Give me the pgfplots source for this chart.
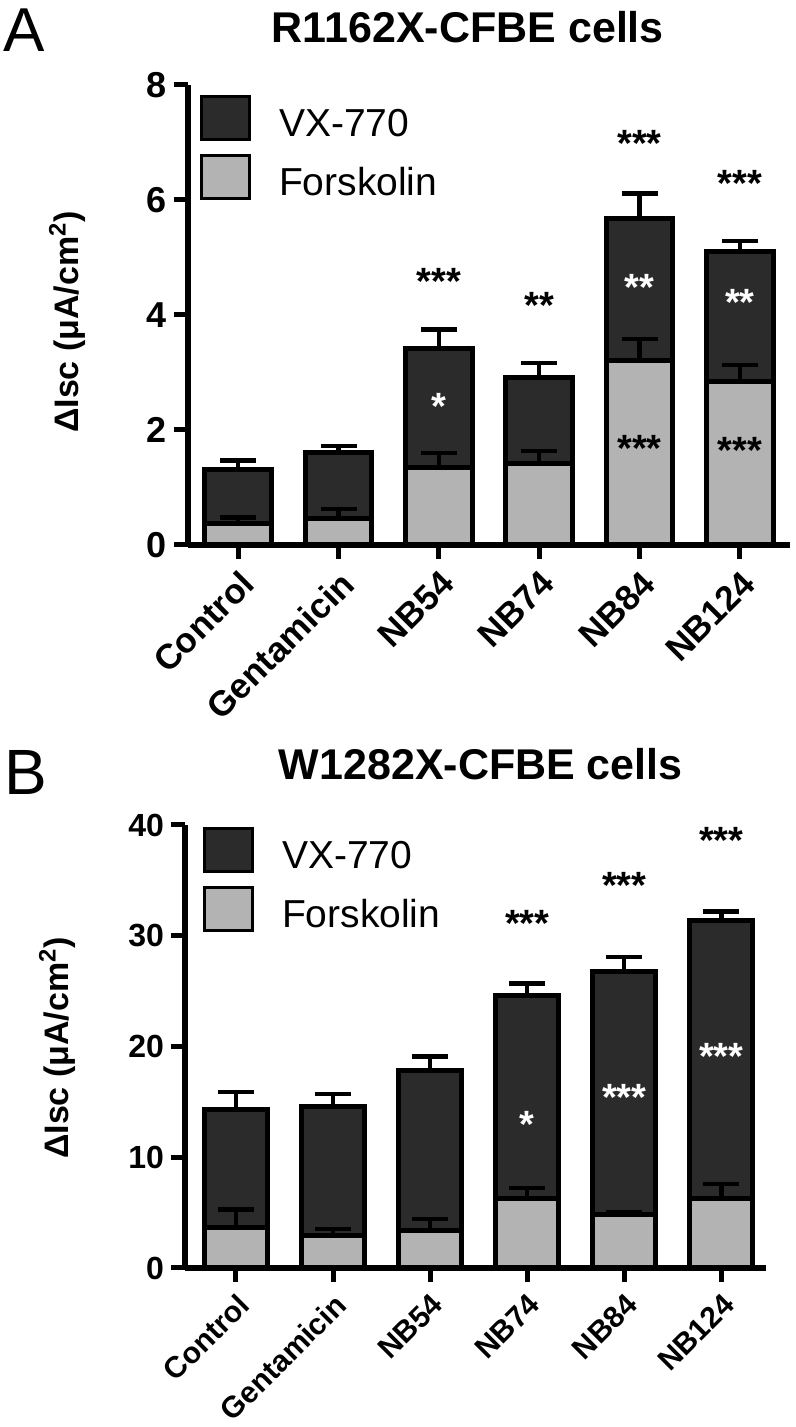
\documentclass[border=0pt]{standalone}
\usepackage{fontspec}
\setmainfont{Liberation Sans}
\usepackage{pgfplots}
\usepackage{pgfplotstable}
\pgfplotsset{compat=1.18}
\definecolor{vxdark}{HTML}{2B2B2B}
\definecolor{fskgray}{HTML}{B3B3B3}

% x, VX-770 top (total), error, Forskolin, error
\pgfplotstableread{
x tot terr fsk ferr
0 1.32 0.15 0.37 0.11
1 1.60 0.12 0.46 0.17
2 3.42 0.33 1.34 0.26
3 2.92 0.24 1.41 0.22
4 5.67 0.44 3.20 0.38
5 5.10 0.19 2.85 0.28
}\dataA

\pgfplotstableread{
x tot terr fsk ferr
0 14.3 1.6 3.7 1.6
1 14.6 1.1 2.9 0.6
2 17.8 1.3 3.4 1.0
3 24.6 1.1 6.3 0.9
4 26.8 1.3 4.8 0.2
5 31.4 0.8 6.3 1.3
}\dataB

\pgfplotsset{
  panel/.style={
    scale only axis,
    anchor=south west,
    axis x line=bottom, axis y line=left,
    axis line style={line width=3pt, -},
    tick align=outside,
    major tick length=7pt,
    tick style={line width=2.5pt, black},
    xtick={0,...,5},
    xticklabels={Control,Gentamicin,NB54,NB74,NB84,NB124},
    xticklabel style={rotate=45, anchor=north east},
    /pgf/number format/assume math mode=true,
    ymin=0,
    clip=false,
    legend cell align=left,
    legend image code/.code={\draw[##1, line width=1.3pt] (0pt,-7.5pt) rectangle (24pt,14pt);},
    legend style={draw=none, fill=none, inner sep=0pt, column sep=14pt, row sep=6.5pt,
      anchor=north west, nodes={inner sep=0pt},
      font=\fontsize{19.5pt}{22pt}\selectfont},
    title style={anchor=base, inner sep=0pt, yshift=0pt, font=\bfseries\fontsize{21.5pt}{24pt}\selectfont},
    ylabel style={anchor=center, font=\bfseries\fontsize{17pt}{20pt}\selectfont},
  },
  totbar/.style={ybar, fill=vxdark, draw=black, line width=2.5pt,
    error bars/.cd, y dir=plus, y explicit,
    error bar style={line width=2.2pt, black},
    error mark options={rotate=90, line width=2.2pt, mark size=9pt, black}},
  fskbar/.style={ybar, fill=fskgray, draw=black, line width=2.5pt,
    error bars/.cd, y dir=plus, y explicit,
    error bar style={line width=2.2pt, black},
    error mark options={rotate=90, line width=2.2pt, mark size=9pt, black}},
}
\newcommand{\stars}[4]{\node[text=#3, font=\bfseries\fontsize{19pt}{20pt}\selectfont, inner sep=0pt, yshift=-4pt] at (axis cs:#1,#2) {#4};}

\begin{document}
\begin{tikzpicture}
\useasboundingbox (0,0) rectangle (398pt,713.5pt);

\node[anchor=base west, inner sep=0pt, font=\fontsize{31pt}{34pt}\selectfont] at (1.5pt,687.5pt) {A};
\node[anchor=base west, inner sep=0pt, font=\fontsize{32pt}{34pt}\selectfont] at (2pt,316pt) {B};

% panel A
\begin{axis}[panel,
  at={(94pt,441pt)}, width=301pt, height=230pt,
  xmin=-0.5, xmax=5.5, ymax=8, ytick={0,2,...,8},
  bar width=0.667,
  xticklabel style={font=\bfseries\fontsize{17.5pt}{20pt}\selectfont},
  yticklabel style={font=\bfseries\fontsize{18pt}{20pt}\selectfont},
  title={R1162X-CFBE cells},
  title style={at={(axis description cs:0.465,1.067)}},
  ylabel={ΔIsc (μA/cm\textsuperscript{2})},
  ylabel style={at={(axis description cs:-0.201,0.485)}},
  legend style={at={(axis description cs:0,1)}, xshift=6pt, yshift=-5pt},
]
\addplot[totbar] table[x=x, y=tot, y error=terr] {\dataA};
\addlegendentry{VX-770}
\addplot[fskbar] table[x=x, y=fsk, y error=ferr] {\dataA};
\addlegendentry{Forskolin}
\stars{2}{4.73}{black}{***}
\stars{3}{4.30}{black}{**}
\stars{4}{7.13}{black}{***}
\stars{5}{6.43}{black}{***}
\stars{2}{2.55}{white}{*}
\stars{4}{4.61}{white}{**}
\stars{5}{4.35}{white}{**}
\stars{4}{1.82}{black}{***}
\stars{5}{1.79}{black}{***}
\end{axis}

% panel B
\begin{axis}[panel,
  at={(92.5pt,79.5pt)}, width=290.5pt, height=221.5pt,
  xmin=-0.525, xmax=5.46, ymax=40, ytick={0,10,...,40},
  bar width=0.65,
  xticklabel style={font=\bfseries\fontsize{15pt}{18pt}\selectfont},
  yticklabel style={font=\bfseries\fontsize{16pt}{18pt}\selectfont},
  title={W1282X-CFBE cells},
  title style={at={(axis description cs:0.509,1.0745)}},
  ylabel={ΔIsc (μA/cm\textsuperscript{2})},
  ylabel style={at={(axis description cs:-0.220,0.497)}},
  legend style={at={(axis description cs:0,1)}, xshift=9pt, yshift=-1pt},
]
\addplot[totbar] table[x=x, y=tot, y error=terr] {\dataB};
\addlegendentry{VX-770}
\addplot[fskbar] table[x=x, y=fsk, y error=ferr] {\dataB};
\addlegendentry{Forskolin}
\stars{3}{31.8}{black}{***}
\stars{4}{35.3}{black}{***}
\stars{5}{39.3}{black}{***}
\stars{3}{13.7}{white}{*}
\stars{4}{16.1}{white}{***}
\stars{5}{19.85}{white}{***}
\end{axis}
\end{tikzpicture}
\end{document}
